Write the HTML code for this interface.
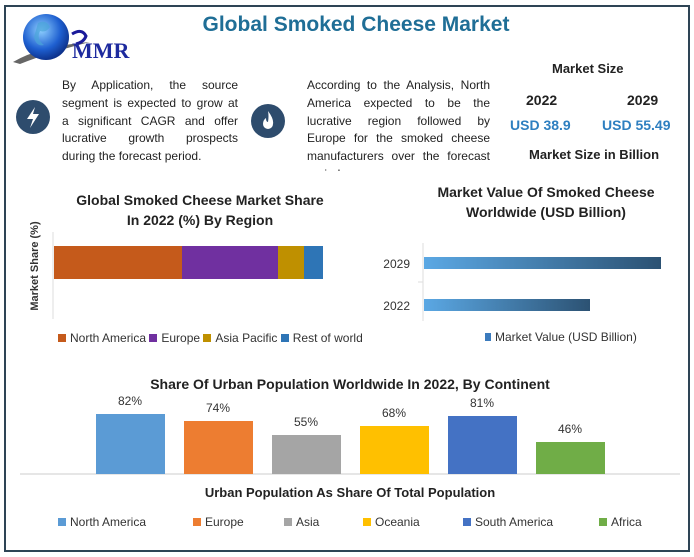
<!DOCTYPE html>
<html><head><meta charset="utf-8"><style>
body{margin:0;background:#fff;}
.c{position:relative;width:694px;height:557px;overflow:hidden;font-family:"Liberation Sans",sans-serif;}
.t{position:absolute;white-space:nowrap;}
.frame{position:absolute;left:4px;top:5px;width:682px;height:543px;border:2.5px solid #2e4455;}
.p{position:absolute;font-size:12px;line-height:17.8px;color:#222;text-align:justify;}
.b{font-weight:bold;}
.lg{position:absolute;font-size:12px;color:#333;white-space:nowrap;}
.sq{display:inline-block;width:8px;height:8px;margin-right:4px;vertical-align:0px;}
</style></head><body><div class="c">
<div class="frame"></div>
<svg style="position:absolute;left:0;top:0" width="694" height="557">
<defs>
<radialGradient id="g" cx="0.4" cy="0.35" r="0.7"><stop offset="0" stop-color="#8fd0ff"/><stop offset="0.6" stop-color="#1e5fd0"/><stop offset="1" stop-color="#0a2a80"/></radialGradient>
<linearGradient id="bg" x1="0" x2="1"><stop offset="0" stop-color="#5ba8e4"/><stop offset="1" stop-color="#2c5273"/></linearGradient>
</defs>
<path d="M13,62 Q40,46 90,42 Q50,52 20,64Z" fill="#666"/>
<circle cx="46" cy="37" r="23" fill="url(#g)"/>
<path d="M38,23 q8,-4 12,4 q-4,6 -10,4 q-4,8 4,14 q-8,2 -10,-8Z" fill="#4aa4d8" opacity="0.7"/>
<path d="M72,34 q10,-6 14,2 q-2,6 -10,8" fill="none" stroke="#1a1a9a" stroke-width="3"/>
<text x="72" y="58" font-family="Liberation Serif" font-weight="bold" font-size="22" fill="#1d2a9e">MMR</text>
<circle cx="33" cy="117" r="17" fill="#2e4c6d"/>
<path d="M35,107 L27,119 L33,119 L30,128 L39,114 L33,114Z" fill="#fff"/>
<circle cx="268" cy="121" r="17" fill="#2e4c6d"/>
<path d="M268,111 q6,8 5,13 a5,5 0 0 1 -10,0 q0,-4 3,-6 q0,4 2,4 q1,-6 0,-11Z" fill="#fff"/>
<line x1="53" y1="232" x2="53" y2="319" stroke="#ddd"/>
<rect x="54" y="246" width="128" height="33" fill="#c55a1b"/>
<rect x="182" y="246" width="96" height="33" fill="#7030a0"/>
<rect x="278" y="246" width="26" height="33" fill="#bf9000"/>
<rect x="304" y="246" width="19" height="33" fill="#2e75b6"/>
<text transform="translate(38,266) rotate(-90)" text-anchor="middle" font-size="11" font-weight="bold" fill="#333">Market Share (%)</text>
<line x1="423" y1="243" x2="423" y2="321" stroke="#ddd"/>
<line x1="418" y1="282" x2="423" y2="282" stroke="#ddd"/>
<rect x="424" y="257" width="237" height="12" fill="url(#bg)"/>
<rect x="424" y="299" width="166" height="12" fill="url(#bg)"/>
<text x="410" y="268" text-anchor="end" font-size="12" fill="#333">2029</text>
<text x="410" y="310" text-anchor="end" font-size="12" fill="#333">2022</text>
<line x1="20" y1="474" x2="680" y2="474" stroke="#ccc"/>
<rect x="96" y="414" width="69" height="60" fill="#5b9bd5"/>
<rect x="184" y="421" width="69" height="53" fill="#ed7d31"/>
<rect x="272" y="435" width="69" height="39" fill="#a5a5a5"/>
<rect x="360" y="426" width="69" height="48" fill="#ffc000"/>
<rect x="448" y="416" width="69" height="58" fill="#4472c4"/>
<rect x="536" y="442" width="69" height="32" fill="#70ad47"/>
<g font-size="12" fill="#333" text-anchor="middle">
<text x="130" y="405">82%</text><text x="218" y="412">74%</text><text x="306" y="426">55%</text>
<text x="394" y="417">68%</text><text x="482" y="407">81%</text><text x="570" y="433">46%</text></g>
</svg>
<div class="t b" style="left:0;width:712px;text-align:center;top:13px;font-size:21px;color:#1f6e96">Global Smoked Cheese Market</div>
<div class="p" style="left:62px;top:77px;width:176px">By Application, the source segment is expected to grow at a significant CAGR and offer lucrative growth prospects during the forecast period.</div>
<div class="p" style="left:307px;top:77px;width:183px;height:94px;overflow:hidden">According to the Analysis, North America expected to be the lucrative region followed by Europe for the smoked cheese manufacturers over the forecast period.</div>
<div class="t b" style="left:552px;top:61px;font-size:13px;color:#222">Market Size</div>
<div class="t b" style="left:526px;top:92px;font-size:14px;color:#222">2022</div>
<div class="t b" style="left:627px;top:92px;font-size:14px;color:#222">2029</div>
<div class="t b" style="left:510px;top:117px;font-size:14px;color:#2e7fc0">USD 38.9</div>
<div class="t b" style="left:602px;top:117px;font-size:14px;color:#2e7fc0">USD 55.49</div>
<div class="t b" style="left:529px;top:147px;font-size:13px;color:#222">Market Size in Billion</div>
<div class="t b" style="left:60px;width:280px;text-align:center;top:190px;font-size:14px;line-height:20px;color:#222">Global Smoked Cheese Market Share<br>In 2022 (%) By Region</div>
<div class="t b" style="left:406px;width:280px;text-align:center;top:182px;font-size:14px;line-height:20px;color:#222">Market Value Of Smoked Cheese<br>Worldwide (USD Billion)</div>
<div class="lg" style="left:58px;top:331px"><span class="sq" style="background:#c55a1b"></span>North America <span class="sq" style="background:#7030a0"></span>Europe <span class="sq" style="background:#bf9000"></span>Asia Pacific <span class="sq" style="background:#2e75b6"></span>Rest of world</div>
<div class="lg" style="left:485px;top:330px"><span class="sq" style="background:#3b7bbd;width:6px"></span>Market Value (USD Billion)</div>
<div class="t b" style="left:0;width:700px;text-align:center;top:376px;font-size:14px;color:#222">Share Of Urban Population Worldwide In 2022, By Continent</div>
<div class="t b" style="left:0;width:700px;text-align:center;top:485px;font-size:13px;color:#222">Urban Population As Share Of Total Population</div>
<div class="lg" style="left:58px;top:515px"><span class="sq" style="background:#5b9bd5"></span>North America</div>
<div class="lg" style="left:193px;top:515px"><span class="sq" style="background:#ed7d31"></span>Europe</div>
<div class="lg" style="left:284px;top:515px"><span class="sq" style="background:#a5a5a5"></span>Asia</div>
<div class="lg" style="left:363px;top:515px"><span class="sq" style="background:#ffc000"></span>Oceania</div>
<div class="lg" style="left:463px;top:515px"><span class="sq" style="background:#4472c4"></span>South America</div>
<div class="lg" style="left:599px;top:515px"><span class="sq" style="background:#70ad47"></span>Africa</div>
</div></body></html>
